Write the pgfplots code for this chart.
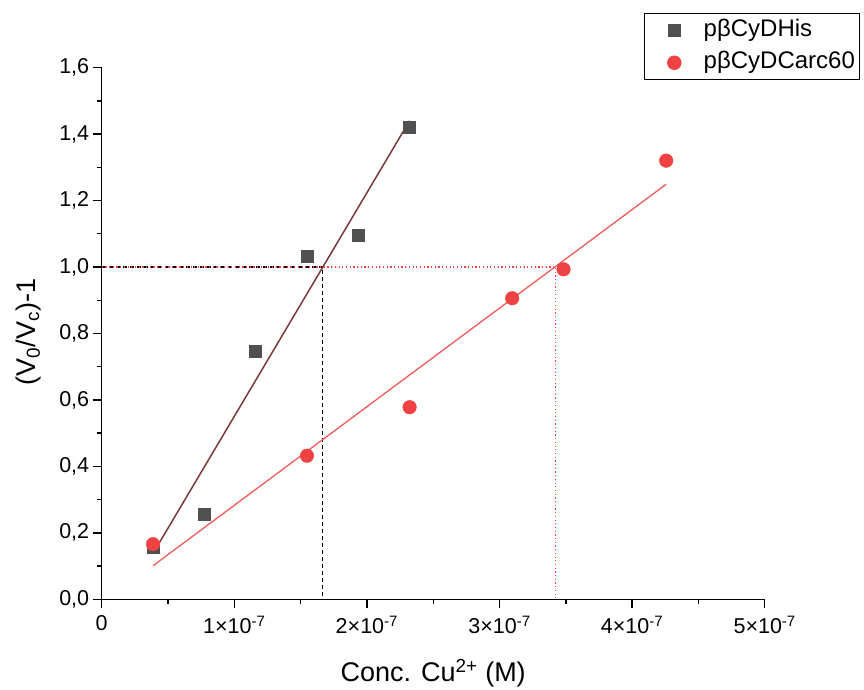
\documentclass[border=0pt]{standalone}
\usepackage{pgfplots}
\pgfplotsset{compat=1.18}
\usepackage{fontspec}
\setmainfont{Liberation Sans}
\definecolor{sqgray}{RGB}{80,80,80}
\definecolor{cred}{RGB}{240,66,66}
\definecolor{fitbrown}{RGB}{120,58,58}
\definecolor{fitred}{RGB}{240,90,90}
\pgfplotsset{mylegimg/.style={legend image code/.code={\path (-25.5pt,0pt) (29pt,0pt); \draw[##1] plot coordinates {(0pt,0pt)};}}}
\begin{document}
\begin{tikzpicture}
\path[use as bounding box] (-101.7pt,-90.7pt) rectangle (762.3pt,599.3pt);
\begin{axis}[
  at={(0pt,0pt)}, anchor=south west,
  scale only axis, width=663pt, height=531.7pt,
  xmin=0, xmax=5e-7, ymin=0, ymax=1.6,
  axis x line*=bottom, axis y line*=left,
  axis line style={-, line width=1.5pt},
  every tick/.style={black, line width=1.4pt},
  tick align=outside,
  major tick length=9pt, minor tick length=5pt,
  xtick={0,1e-7,2e-7,3e-7,4e-7,5e-7},
  xticklabels={0, 1×10\textsuperscript{-7}, 2×10\textsuperscript{-7}, 3×10\textsuperscript{-7}, 4×10\textsuperscript{-7}, 5×10\textsuperscript{-7}},
  scaled x ticks=false,
  minor x tick num=1,
  ytick={0,0.2,...,1.6},
  minor y tick num=1,
  yticklabel style={/pgf/number format/.cd, fixed, fixed zerofill, precision=1, use comma, assume math mode=true},
  tick label style={font=\fontsize{21.5}{25}\selectfont},
  xticklabel style={yshift=-4pt},
  xlabel={Conc. Cu\textsuperscript{2+} (M)},
  ylabel={(V\textsubscript{0}/V\textsubscript{c})-1},
  label style={font=\fontsize{27}{31}\selectfont},
  xlabel style={at={(axis description cs:0.5,-0.155)}, anchor=base},
  ylabel style={at={(axis description cs:-0.1106,0.503)}, anchor=center},
  legend style={at={(axis description cs:0.818,1.102)}, anchor=north west,
    draw=black, line width=0.8pt, font=\fontsize{24}{28}\selectfont,
    inner xsep=4pt, inner ysep=6pt, row sep=10pt, column sep=0pt,
    nodes={inner sep=0pt, text height=17pt, text depth=5pt}},
  legend cell align=left,
  clip=false,
]
\addplot[only marks, mark=square*, mark size=6pt, color=sqgray, mylegimg] coordinates {
 (0.387e-7,0.158) (0.774e-7,0.257) (1.161e-7,0.747) (1.548e-7,1.032) (1.935e-7,1.097) (2.322e-7,1.420)};
\addlegendentry{pβCyDHis}
\addplot[only marks, mark=*, mark size=6.8pt, color=cred, mylegimg] coordinates {
 (0.387e-7,0.166) (1.548e-7,0.432) (2.322e-7,0.578) (3.096e-7,0.906) (3.483e-7,0.993) (4.257e-7,1.320)};
\addlegendentry{pβCyDCarc60}
\addplot[black, line width=1.1pt, dash pattern=on 4pt off 3pt, forget plot] coordinates {(0,1) (1.665e-7,1) (1.665e-7,0)};
\addplot[cred, line width=1.1pt, dash pattern=on 1.2pt off 2.5pt, forget plot] coordinates {(0,1) (3.425e-7,1) (3.425e-7,0)};
\addplot[fitbrown, line width=1.5pt, forget plot] coordinates {(0.387e-7,0.138) (2.322e-7,1.44)};
\addplot[fitred, line width=1.3pt, forget plot] coordinates {(0.387e-7,0.101) (4.257e-7,1.249)};
\end{axis}
\end{tikzpicture}
\end{document}
